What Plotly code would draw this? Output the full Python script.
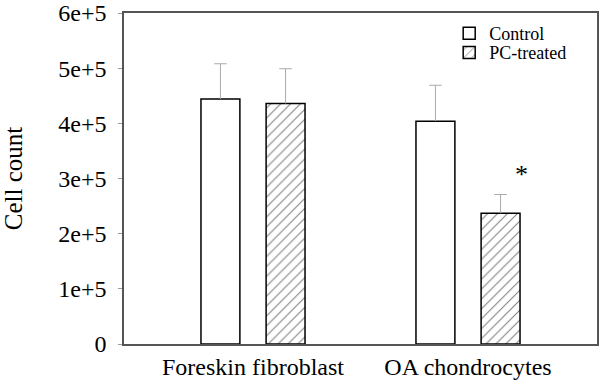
import plotly.graph_objects as go

categories = ["Foreskin fibroblast", "OA chondrocytes"]
control_vals = [444000, 404000]
control_err = [64000, 65000]
pc_vals = [436000, 237000]
pc_err = [63000, 34000]
y_ticks = [0, 100000, 200000, 300000, 400000, 500000, 600000]
y_tick_labels = ["0", "1e+5", "2e+5", "3e+5", "4e+5", "5e+5", "6e+5"]

FONT = "Liberation Serif"
BAR_W = 0.181
OFFSETS = [-0.242, 0.061]  # left edge of each bar relative to category center

xpos = list(range(len(categories)))

fig = go.Figure()
series = [("Control", control_vals, control_err, None, "legend"),
          ("PC-treated", pc_vals, pc_err,
           dict(shape="/", fgcolor="black", bgcolor="white", size=7, solidity=0.15),
           "legend2")]
for (name, vals, errs, pat, leg), off in zip(series, OFFSETS):
    marker = dict(color="white", line=dict(color="black", width=1.5))
    if pat:
        marker["pattern"] = pat
    centers = [p + off + BAR_W / 2 for p in xpos]
    fig.add_trace(go.Bar(
        name=name, x=xpos, y=vals, width=BAR_W, offset=off, marker=marker,
        legend=leg,
        error_y=dict(type="data", symmetric=False, array=errs,
                     arrayminus=[0] * len(errs), color="#aaaaaa",
                     thickness=1, width=0),
    ))
    fig.add_trace(go.Scatter(
        x=centers, y=[v + e for v, e in zip(vals, errs)], mode="markers",
        marker=dict(symbol="line-ew", size=9, line=dict(color="#aaaaaa", width=1)),
        showlegend=False, hoverinfo="skip",
    ))

fig.add_annotation(x=xpos[1] + OFFSETS[1] + BAR_W / 2, y=pc_vals[1] + pc_err[1],
                   text="*", showarrow=False, xshift=21, yshift=20,
                   font=dict(family=FONT, size=26, color="black"))

fig.update_layout(
    width=600, height=390,
    margin=dict(l=124, r=3, t=13, b=46, autoexpand=False),
    paper_bgcolor="white", plot_bgcolor="white",
    font=dict(family=FONT, color="black"),
    showlegend=True,
    legend=dict(x=0.6875, y=0.938, xanchor="left", yanchor="middle",
                bgcolor="rgba(0,0,0,0)", font=dict(family=FONT, size=18),
                itemwidth=30),
    legend2=dict(x=0.6875, y=0.88, xanchor="left", yanchor="middle",
                 bgcolor="rgba(0,0,0,0)", font=dict(family=FONT, size=18),
                 itemwidth=30),
)
fig.update_xaxes(
    range=[-0.6, 1.6], tickvals=xpos, ticktext=categories, automargin=False,
    showline=True, mirror=True, linecolor="#555555",
    linewidth=1.5, ticks="", showgrid=False, zeroline=False,
    tickfont=dict(family=FONT, size=24), ticklabelstandoff=0,
)
fig.update_yaxes(
    range=[0, 600000], tickvals=y_ticks, ticktext=y_tick_labels, automargin=False,
    showline=True, mirror=True, linecolor="#555555", linewidth=1.5,
    ticks="outside", ticklen=4, tickcolor="#999999", showgrid=False,
    zeroline=False, tickfont=dict(family=FONT, size=24),
    ticklabelstandoff=7,
    title=dict(text="Cell count", font=dict(family=FONT, size=25), standoff=39),
)

fig.write_html("out.html", config={"displayModeBar": False},
               post_script="document.body.style.margin='0';")
